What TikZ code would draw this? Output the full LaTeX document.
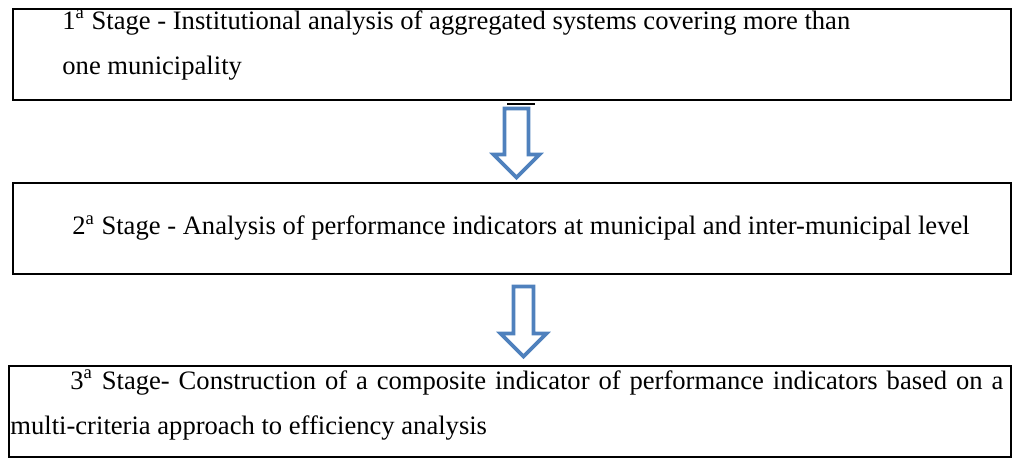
\documentclass[tikz,border=0pt]{standalone}
\usepackage{fontspec}
\setmainfont{Liberation Serif}
\usepackage{tikz}
\definecolor{arrowblue}{RGB}{79,129,189}
\tikzstyle{stagebox}=[draw=black, line width=1.3pt, inner sep=0pt]
\tikzstyle{stagetext}=[inner sep=0pt, font=\fontsize{13.3}{22.5}\selectfont]
\tikzstyle{hollow}=[draw=arrowblue, line width=1.8pt, fill=white, line join=miter]

\begin{document}
\begin{tikzpicture}[x=0.5pt, y=-0.5pt]
\useasboundingbox (0,0) rectangle (1013,460);
\node[stagebox, minimum width=499pt, minimum height=45.5pt] (s1) at (512,54.5) {};
\node[stagebox, minimum width=499pt, minimum height=45.5pt] (s2) at (512,228.5) {};
\node[stagebox, minimum width=501pt, minimum height=45.5pt] (s3) at (510,411.5) {};

\node[stagetext, anchor=west, align=left] (t1) at (62,45) {1\textsuperscript{a} Stage - Institutional analysis of aggregated systems covering more than\\one municipality};
\node[stagetext] (t2) at (521,228) {2\textsuperscript{a} Stage - Analysis of performance indicators at municipal and inter-municipal level};
\node[stagetext, anchor=west, text width=496.5pt, align=justify] (t3) at (10,405) {\hspace*{30pt}3\textsuperscript{a} Stage- Construction of a composite indicator of performance indicators based on a\linebreak multi-criteria approach to efficiency analysis};

\draw[line width=1pt] (507,104) -- (535,104);

\coordinate (a12) at (516.5,108.5);
\coordinate (a23) at (523.5,286.5);
\draw[hollow] (a12) ++(-12,0) -- ++(24,0) -- ++(0,46) -- ++(11,0) -- ++(-23,23) -- ++(-23,-23) -- ++(11,0) -- cycle;
\draw[hollow] (a23) ++(-10,0) -- ++(20,0) -- ++(0,47) -- ++(13,0) -- ++(-23,23) -- ++(-23,-23) -- ++(13,0) -- cycle;
\end{tikzpicture}
\end{document}
